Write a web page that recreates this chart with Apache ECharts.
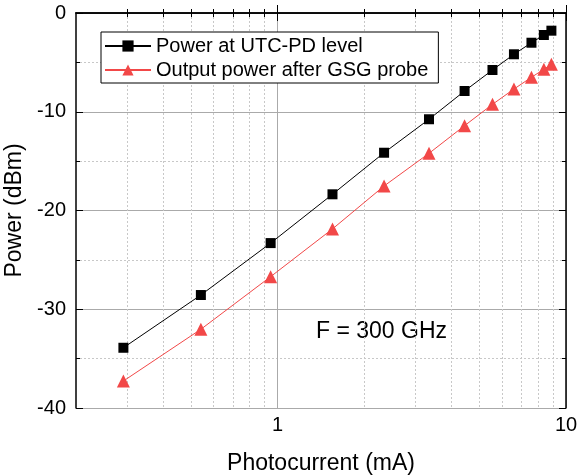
<!DOCTYPE html>
<html>
<head>
<meta charset="utf-8">
<script src="https://cdn.jsdelivr.net/npm/echarts@6/dist/echarts.min.js"></script>
<style>
  html, body { margin: 0; padding: 0; background: #fff; }
  #main { width: 578px; height: 476px; }
</style>
</head>
<body>
<div id="main"></div>
<script>
// photocurrent (mA)
var current = [0.292, 0.542, 0.946, 1.55, 2.34, 3.35, 4.45, 5.56, 6.6, 7.59, 8.38, 8.9];
// power at UTC-PD level (dBm)
var powerPD = [-33.9, -28.56, -23.3, -18.36, -14.15, -10.76, -7.9, -5.77, -4.18, -3.01, -2.23, -1.79];
// output power after GSG probe (dBm)
var powerGSG = [-37.27, -32.03, -26.7, -21.87, -17.52, -14.21, -11.41, -9.25, -7.7, -6.51, -5.7, -5.19];

var xMajor = [1, 10];
var xMinor = [0.3, 0.4, 0.5, 0.6, 0.7, 0.8, 0.9, 2, 3, 4, 5, 6, 7, 8, 9];

var FONT = 'Liberation Sans, Arial, sans-serif';
var RED = '#f24848';

function pairs(xs, ys) {
  var out = [];
  for (var i = 0; i < xs.length; i++) out.push([xs[i], ys[i]]);
  return out;
}

function xAx(pos, ticks, len, opts) {
  var a = {
    type: 'log', logBase: 10, min: 0.2, max: 10, position: pos,
    axisLine: { show: false },
    axisTick: { show: true, inside: true, length: len, customValues: ticks,
      lineStyle: { color: '#000', width: 1 } },
    axisLabel: { show: false },
    splitLine: { show: false }
  };
  return Object.assign(a, opts || {});
}

var chart = echarts.init(document.getElementById('main'));
var option = {
  backgroundColor: '#fff',
  animation: false,
  textStyle: { fontFamily: FONT },
  grid: { left: 76, right: 12, top: 13, bottom: 68, outerBoundsMode: 'none' },
  legend: {
    orient: 'vertical', left: 101, top: 32,
    padding: [4, 10, 3, 3], itemGap: 4, itemWidth: 46, itemHeight: 14,
    backgroundColor: '#fff', borderColor: '#000', borderWidth: 1,
    textStyle: { fontFamily: FONT, fontSize: 20, color: '#000' },
    z: 10
  },
  xAxis: [
    xAx('bottom', xMajor, 8, {
      name: 'Photocurrent (mA)', nameLocation: 'middle', nameGap: 44,
      nameTextStyle: { fontFamily: FONT, fontSize: 23, color: '#000' },
      axisLine: { show: true, lineStyle: { color: '#000', width: 1.5 } },
      axisLabel: { show: true, customValues: xMajor, margin: 7,
        fontFamily: FONT, fontSize: 20, color: '#000' },
      splitLine: { show: true, lineStyle: { color: '#aaa', width: 1 } }
    }),
    xAx('bottom', xMinor, 4, {
      splitLine: { show: true, lineStyle: { color: '#c8c8c8', width: 1, type: [2, 2] } }
    }),
    xAx('top', xMajor, 8, {
      axisLine: { show: true, lineStyle: { color: '#000', width: 1.5 } }
    }),
    xAx('top', xMinor, 4)
  ],
  yAxis: [
    {
      type: 'value', min: -40, max: 0, interval: 10, position: 'left',
      name: 'Power (dBm)', nameLocation: 'middle', nameGap: 36,
      nameTextStyle: { fontFamily: FONT, fontSize: 23, color: '#000' },
      axisLine: { show: true, lineStyle: { color: '#000', width: 1.5 } },
      axisTick: { show: true, inside: true, length: 7, lineStyle: { color: '#000' } },
      minorTick: { show: true, splitNumber: 2, length: 4, lineStyle: { color: '#000' } },
      axisLabel: { margin: 10, fontFamily: FONT, fontSize: 20, color: '#000' },
      splitLine: { show: true, lineStyle: { color: '#aaa', width: 1 } },
      minorSplitLine: { show: true, lineStyle: { color: '#c8c8c8', width: 1, type: [2, 2] } }
    },
    {
      type: 'value', min: -40, max: 0, interval: 10, position: 'right',
      axisLine: { show: true, lineStyle: { color: '#000', width: 1.5 } },
      axisTick: { show: true, inside: true, length: 7, lineStyle: { color: '#000' } },
      minorTick: { show: true, splitNumber: 2, length: 4, lineStyle: { color: '#000' } },
      axisLabel: { show: false },
      splitLine: { show: false }
    }
  ],
  graphic: [
    {
      type: 'text', left: 316, top: 320,
      style: { text: 'F = 300 GHz', fontFamily: FONT, fontSize: 23, fill: '#000' }
    }
  ],
  series: [
    {
      name: 'Power at UTC-PD level', type: 'line',
      data: pairs(current, powerPD),
      symbol: 'rect', symbolSize: 10,
      itemStyle: { color: '#000' },
      lineStyle: { color: '#000', width: 1 },
      z: 5
    },
    {
      name: 'Output power after GSG probe', type: 'line',
      data: pairs(current, powerGSG),
      symbol: 'triangle', symbolSize: 13,
      itemStyle: { color: RED },
      lineStyle: { color: RED, width: 1 },
      z: 5
    }
  ]
};
chart.setOption(option);
</script>
</body>
</html>
